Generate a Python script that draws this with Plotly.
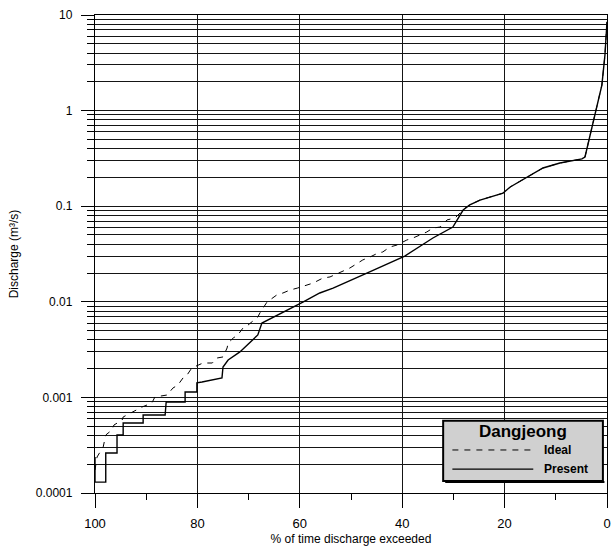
import plotly.graph_objects as go

# ---- data ----
present_x = [100, 100, 97.9, 97.9, 95.7, 95.7, 94.5, 94.5, 90.6, 90.6, 86.3, 86.1, 82.4, 82.4,
             80.1, 80.1, 79.1, 75.2, 75.0, 74.0, 71.7, 69.3, 68.2, 67.4, 66.2, 62.5, 59.4, 56.1,
             53.5, 46.9, 40.4, 39.5, 34.0, 30.1, 28.1, 26.8, 24.8, 22.9, 20.3, 18.9, 15.6, 12.5,
             9.2, 4.9, 4.3, 3.3, 2.3, 1.0, 0.4, 0.0]
present_y = [0.000238, 0.000130, 0.000130, 0.000262, 0.000262, 0.000404, 0.000404, 0.00054,
             0.00054, 0.000655, 0.000655, 0.000895, 0.000895, 0.00114, 0.00114, 0.00142, 0.00145,
             0.0016, 0.00208, 0.00246, 0.00299, 0.00398, 0.0045, 0.006, 0.00646, 0.0082, 0.00995,
             0.01236, 0.0139, 0.02, 0.0287, 0.0301, 0.0465, 0.0605, 0.0912, 0.103, 0.116, 0.125,
             0.137, 0.159, 0.202, 0.251, 0.283, 0.312, 0.327, 0.556, 0.90, 1.85, 3.82, 8.5]

ideal_x = [100, 99.6, 99.0, 98.4, 97.9, 96.7, 96.3, 94.7, 94.5, 91.2, 90.8, 88.9, 88.3, 85.9,
           84.8, 83.8, 82.8, 82.0, 81.1, 78.9, 77.1, 76.2, 75.0, 74.2, 74.0, 73.0, 72.1, 71.1,
           70.1, 68.2, 67.8, 66.4, 65.8, 64.5, 63.3, 61.9, 60.5, 58.6, 57.4, 55.5, 54.1, 50.2,
           49.2, 47.7, 46.3, 44.7, 43.8, 42.4, 41.0, 39.1, 37.9, 36.5, 35.2, 34.0, 32.6, 31.25,
           29.7, 27.7, 26.8, 24.8, 22.9, 20.3, 18.9, 15.6, 12.5, 9.2, 4.9, 4.3, 3.3, 2.3, 1.0,
           0.4, 0.0]
ideal_y = [0.000174, 0.000238, 0.000269, 0.000303, 0.000404, 0.000456, 0.000514, 0.00058,
           0.000624, 0.000774, 0.000794, 0.000873, 0.00101, 0.00106, 0.00125, 0.00135, 0.0016,
           0.00172, 0.00203, 0.00229, 0.00229, 0.00258, 0.00265, 0.00329, 0.00371, 0.00418,
           0.0045, 0.00532, 0.00572, 0.00693, 0.00763, 0.00995, 0.01045, 0.01178, 0.01236,
           0.01328, 0.0139, 0.015, 0.0157, 0.0177, 0.0182, 0.0226, 0.0243, 0.0274, 0.0294,
           0.0324, 0.0332, 0.0374, 0.0393, 0.0443, 0.0465, 0.05, 0.0537, 0.0591, 0.0605, 0.0718,
           0.0753, 0.0957, 0.103, 0.116, 0.125, 0.137, 0.159, 0.202, 0.251, 0.283, 0.312, 0.327,
           0.556, 0.90, 1.85, 3.82, 8.5]

x_ticks = [100, 80, 60, 40, 20, 0]
x_minor = [90, 70, 50, 30, 10]
y_ticks = [0.0001, 0.001, 0.01, 0.1, 1, 10]
y_tick_text = ["0.0001", "0.001", "0.01", "0.1", "1", "10"]
y_minor = [m * d for d in [0.0001, 0.001, 0.01, 0.1, 1] for m in range(2, 10)]

legend_title = "Dangjeong"
series_names = ["Ideal", "Present"]

FONT = "Liberation Sans, Arial, sans-serif"
GRID = "#151515"
DASH = "6px,6px"

fig = go.Figure()
fig.add_trace(go.Scatter(x=ideal_x, y=ideal_y, mode="lines", name=series_names[0],
                         line=dict(color="black", width=1, dash=DASH)))
fig.add_trace(go.Scatter(x=present_x, y=present_y, mode="lines", name=series_names[1],
                         line=dict(color="black", width=1.4)))

fig.update_layout(
    width=611, height=550,
    margin=dict(l=95, r=4, t=15, b=57),
    paper_bgcolor="white", plot_bgcolor="white",
    font=dict(family=FONT, size=12, color="black"),
    showlegend=False,
)

# hand-drawn legend box (paper coordinates)
lx0, lx1, ly0, ly1 = 0.680, 0.992, 0.025, 0.151
fig.add_shape(type="rect", xref="paper", yref="paper", x0=lx0, x1=lx1, y0=ly0, y1=ly1,
              fillcolor="#d0d0d0", line=dict(color="black", width=2), layer="above")
fig.add_shape(type="line", xref="paper", yref="paper", x0=lx0 + 0.004, x1=lx1 + 0.003,
              y0=ly0 - 0.002, y1=ly0 - 0.002, line=dict(color="black", width=2), layer="above")
sample_x0, sample_x1 = 0.698, 0.856
for name, yy, dash, w in [(series_names[0], 0.090, DASH, 1), (series_names[1], 0.050, "solid", 1.4)]:
    fig.add_shape(type="line", xref="paper", yref="paper", x0=sample_x0, x1=sample_x1,
                  y0=yy, y1=yy, line=dict(color="black", width=w, dash=dash), layer="above")
    fig.add_annotation(xref="paper", yref="paper", x=0.874, y=yy, text="<b>%s</b>" % name,
                       showarrow=False, xanchor="left", yanchor="middle",
                       font=dict(family=FONT, size=12, color="black"))
fig.add_annotation(xref="paper", yref="paper", x=(lx0 + lx1) / 2, y=0.128,
                   text="<b>%s</b>" % legend_title, showarrow=False,
                   xanchor="center", yanchor="middle",
                   font=dict(family=FONT, size=17, color="black"))

fig.update_xaxes(
    range=[100, 0], tickmode="array", tickvals=x_ticks, automargin=False,
    ticks="outside", ticklen=14, tickwidth=1, tickcolor="black",
    showgrid=True, gridcolor=GRID, gridwidth=1.3,
    showline=True, linecolor="black", linewidth=1.3, mirror=True,
    zeroline=False, ticklabelstandoff=4,
    tickfont=dict(size=13),
    minor=dict(tickmode="array", tickvals=x_minor, ticks="outside", ticklen=6,
               tickcolor="black", showgrid=False),
    title=dict(text="% of time discharge exceeded", font=dict(size=12), standoff=4),
)

fig.update_yaxes(
    type="log", range=[-4, 1], tickmode="array", tickvals=y_ticks, ticktext=y_tick_text,
    automargin=False,
    ticks="outside", ticklen=13, tickwidth=1, tickcolor="black",
    showgrid=True, gridcolor=GRID, gridwidth=1.3,
    showline=True, linecolor="black", linewidth=1.3, mirror=True,
    zeroline=False, ticklabelstandoff=6,
    tickfont=dict(size=12),
    minor=dict(tickmode="array", tickvals=y_minor, ticks="outside", ticklen=7,
               tickcolor="black", showgrid=True, gridcolor=GRID, gridwidth=1.3),
    title=dict(text="Discharge (m³/s)", font=dict(size=12), standoff=14),
)

# remove the default 8px page margin so the 611x550 figure fills the window exactly
fig.write_html("out.html", config={"displayModeBar": False},
               post_script="document.body.style.margin='0';document.body.style.overflow='hidden';")
